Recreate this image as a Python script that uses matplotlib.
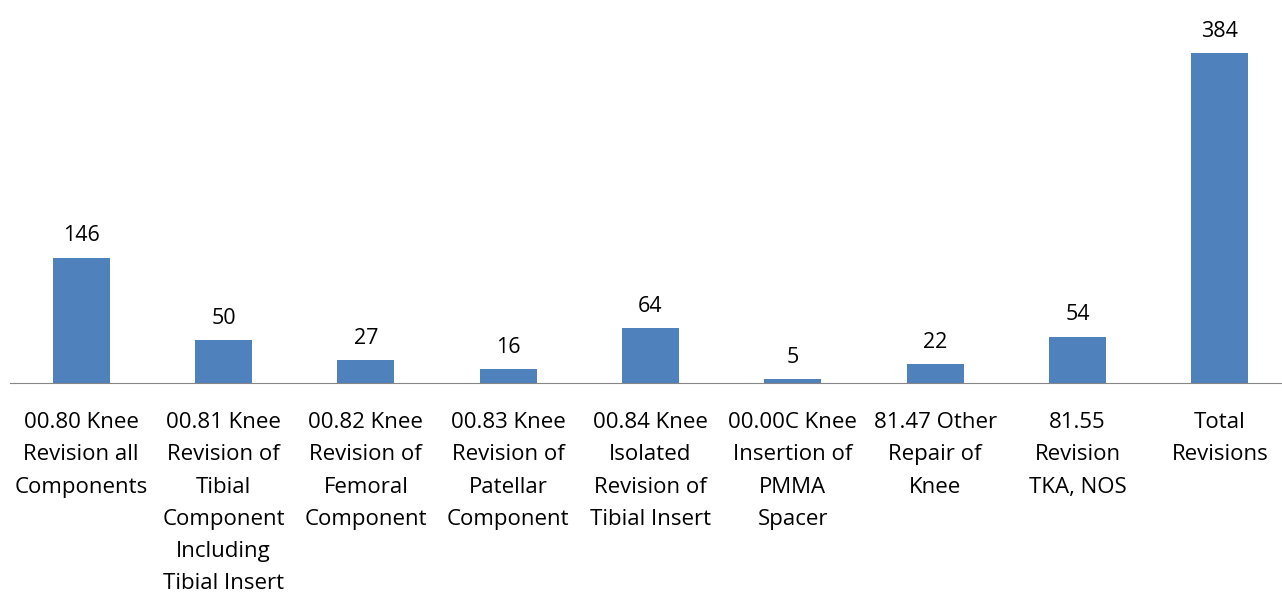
import matplotlib
matplotlib.use('Agg')
import matplotlib.pyplot as plt
import numpy as np

# Categories and counts
categories = [
    "00.80 Knee\nRevision all\nComponents",
    "00.81 Knee\nRevision of\nTibial\nComponent\nIncluding\nTibial Insert",
    "00.82 Knee\nRevision of\nFemoral\nComponent",
    "00.83 Knee\nRevision of\nPatellar\nComponent",
    "00.84 Knee\nIsolated\nRevision of\nTibial Insert",
    "00.00C Knee\nInsertion of\nPMMA\nSpacer",
    "81.47 Other\nRepair of\nKnee",
    "81.55\nRevision\nTKA, NOS",
    "Total\nRevisions",
]
counts = [146, 50, 27, 16, 64, 5, 22, 54, 384]

plt.rcParams['font.family'] = ['Open Sans', 'DejaVu Sans']

fig = plt.figure(figsize=(12.82, 5.93), dpi=100)
ax = fig.add_axes([10 / 1282, 210 / 593, 1281 / 1282, 383 / 593])

x = np.arange(len(categories))
bars = ax.bar(x, counts, width=0.4, color='#4F81BD')

# value labels above each bar
for xi, v in zip(x, counts):
    ax.annotate(str(v), (xi, v), xytext=(0, 8), textcoords='offset points',
                ha='center', va='bottom', fontsize=15.5)

ax.set_xlim(-0.5, len(categories) - 0.5)
ax.set_ylim(0, 445.7)
ax.set_xticks(x)
ax.set_xticklabels(categories, fontsize=16, linespacing=1.70, va='top')
ax.tick_params(axis='x', length=0, pad=21)
ax.set_yticks([])
for side in ['top', 'right', 'left']:
    ax.spines[side].set_visible(False)
ax.spines['bottom'].set_color('#868686')

fig.savefig('out.png', dpi=100)
